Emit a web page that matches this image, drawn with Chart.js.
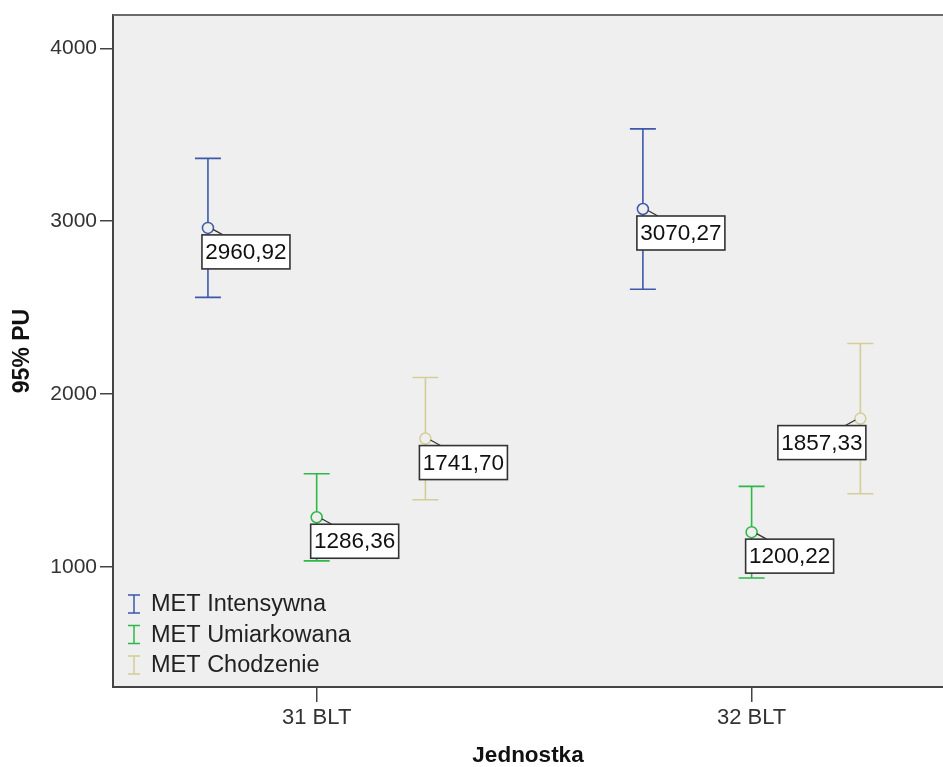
<!DOCTYPE html>
<html>
<head>
<meta charset="utf-8">
<script src="https://cdn.jsdelivr.net/npm/chart.js@4.4.1/dist/chart.umd.min.js"></script>
<style>
  html, body { margin: 0; padding: 0; background: #ffffff; overflow: hidden; }
  #wrap { width: 943px; height: 767px; }
</style>
</head>
<body>
<div id="wrap"><canvas id="c" width="943" height="767"></canvas></div>
<script>
// ---- data ----
const categories = ['31 BLT', '32 BLT'];
const seriesNames = ['MET Intensywna', 'MET Umiarkowana', 'MET Chodzenie'];
const meanIntensywna = [2960.92, 3070.27];
const lowerIntensywna = [2559, 2606];
const upperIntensywna = [3363, 3534];
const meanUmiarkowana = [1286.36, 1200.22];
const lowerUmiarkowana = [1034, 935];
const upperUmiarkowana = [1538, 1465];
const meanChodzenie = [1741.70, 1857.33];
const lowerChodzenie = [1388, 1422];
const upperChodzenie = [2095, 2292];
const yTicks = [1000, 2000, 3000, 4000];
const xTitle = 'Jednostka';
const yTitle = '95% PU';

const FONT = "'Liberation Sans', Arial, sans-serif";
const PLOT_BG = '#efefef';
const colors = ['#3E58AC', '#2EB848', '#D3CE97'];
const groupOffsets = [-0.25, 0, 0.25];

const means = [meanIntensywna, meanUmiarkowana, meanChodzenie];
const lowers = [lowerIntensywna, lowerUmiarkowana, lowerChodzenie];
const uppers = [upperIntensywna, upperUmiarkowana, upperChodzenie];
const labelLeft = [[false, false], [false, false], [false, true]];

const datasets = seriesNames.map((name, i) => ({
  label: name,
  data: means[i].map((v, j) => ({ x: j + 1 + groupOffsets[i], y: v })),
  lower: lowers[i],
  upper: uppers[i],
  labelLeft: labelLeft[i],
  borderColor: colors[i],
  backgroundColor: PLOT_BG,
  pointBackgroundColor: PLOT_BG,
  pointBorderColor: colors[i],
  pointRadius: 5.5,
  pointBorderWidth: 1.5,
  pointHoverRadius: 5.5,
  showLine: false
}));

const bgPlugin = {
  id: 'plotBg',
  beforeDraw(chart) {
    const { ctx, chartArea: a } = chart;
    ctx.save();
    ctx.fillStyle = PLOT_BG;
    ctx.fillRect(a.left, a.top, a.right - a.left, a.bottom - a.top);
    ctx.restore();
  },
  afterDraw(chart) {
    const { ctx, chartArea: a } = chart;
    ctx.save();
    ctx.strokeStyle = '#6a6a6a';
    ctx.lineWidth = 2;
    ctx.beginPath();
    ctx.moveTo(a.left, a.top);
    ctx.lineTo(a.right, a.top);
    ctx.stroke();
    ctx.restore();
  }
};

const errPlugin = {
  id: 'errBars',
  beforeDatasetsDraw(chart) {
    const { ctx, scales: { x, y } } = chart;
    ctx.save();
    chart.data.datasets.forEach((ds) => {
      ds.data.forEach((p, j) => {
        const px = x.getPixelForValue(p.x);
        const yl = y.getPixelForValue(ds.lower[j]);
        const yh = y.getPixelForValue(ds.upper[j]);
        ctx.strokeStyle = ds.borderColor;
        ctx.lineWidth = 1.6;
        ctx.beginPath();
        ctx.moveTo(px, yl); ctx.lineTo(px, yh);
        ctx.moveTo(px - 13, yl); ctx.lineTo(px + 13, yl);
        ctx.moveTo(px - 13, yh); ctx.lineTo(px + 13, yh);
        ctx.stroke();
      });
    });
    ctx.restore();
  }
};

const labelPlugin = {
  id: 'valueLabels',
  afterDatasetsDraw(chart) {
    const { ctx, scales: { x, y } } = chart;
    ctx.save();
    const w = 88, h = 34;
    chart.data.datasets.forEach((ds) => {
      ds.data.forEach((p, j) => {
        const px = x.getPixelForValue(p.x);
        const py = y.getPixelForValue(p.y);
        const left = ds.labelLeft[j];
        const bx = left ? px + 5.5 - w : px - 6;
        const by = py + 7;
        ctx.strokeStyle = '#333';
        ctx.lineWidth = 1.2;
        ctx.beginPath();
        if (left) { ctx.moveTo(px - 5, py + 1.5); ctx.lineTo(px - 15, by); }
        else { ctx.moveTo(px + 5, py + 1.5); ctx.lineTo(px + 15, by); }
        ctx.stroke();
        ctx.fillStyle = '#ffffff';
        ctx.fillRect(bx, by, w, h);
        ctx.strokeStyle = '#333';
        ctx.lineWidth = 1.6;
        ctx.strokeRect(bx, by, w, h);
        ctx.fillStyle = '#111';
        ctx.font = '22.5px ' + FONT;
        ctx.textAlign = 'center';
        ctx.textBaseline = 'middle';
        ctx.fillText(p.y.toFixed(2).replace('.', ','), bx + w / 2, by + h / 2 + 1);
      });
    });
    ctx.restore();
  }
};

const legendPlugin = {
  id: 'innerLegend',
  afterDraw(chart) {
    const { ctx, chartArea: a } = chart;
    ctx.save();
    const offs = [83, 52.5, 22];
    chart.data.datasets.forEach((ds, i) => {
      const yc = a.bottom - offs[i];
      const ix = a.left + 21;
      ctx.strokeStyle = ds.borderColor;
      ctx.lineWidth = 1.5;
      ctx.beginPath();
      ctx.moveTo(ix, yc - 9); ctx.lineTo(ix, yc + 9);
      ctx.moveTo(ix - 6, yc - 9); ctx.lineTo(ix + 6, yc - 9);
      ctx.moveTo(ix - 6, yc + 9); ctx.lineTo(ix + 6, yc + 9);
      ctx.stroke();
      ctx.fillStyle = '#222';
      ctx.font = '23.5px ' + FONT;
      ctx.textAlign = 'left';
      ctx.textBaseline = 'middle';
      ctx.fillText(ds.label, a.left + 38, yc + 1);
    });
    ctx.restore();
  }
};

new Chart(document.getElementById('c'), {
  type: 'scatter',
  data: { datasets },
  plugins: [bgPlugin, errPlugin, labelPlugin, legendPlugin],
  options: {
    responsive: false,
    animation: false,
    devicePixelRatio: 1,
    layout: { autoPadding: false, padding: { top: 15, right: 0, left: 0, bottom: 0 } },
    plugins: { legend: { display: false }, tooltip: { enabled: false } },
    scales: {
      x: {
        type: 'linear',
        position: 'bottom',
        min: 0.5317,
        max: 2.44,
        afterBuildTicks(scale) { scale.ticks = categories.map((c, i) => ({ value: i + 1 })); },
        afterFit(scale) { scale.height = 80; scale.paddingLeft = 0; scale.paddingRight = 0; },
        ticks: {
          callback: (v) => categories[Math.round(v) - 1],
          font: { family: FONT, size: 22 },
          color: '#333',
          padding: 3,
          maxRotation: 0,
          autoSkip: false
        },
        grid: { drawOnChartArea: false, drawTicks: true, tickLength: 15, color: '#444', lineWidth: 1.5 },
        border: { display: true, color: '#444', width: 2 },
        title: {
          display: true, text: xTitle, color: '#111',
          font: { family: FONT, size: 22.5, weight: 'bold', lineHeight: 1 },
          padding: { top: 0, bottom: 0 }
        }
      },
      y: {
        type: 'linear',
        min: 304,
        max: 4193,
        afterBuildTicks(scale) { scale.ticks = yTicks.map(v => ({ value: v })); },
        afterFit(scale) { scale.width = 113; scale.paddingTop = 0; scale.paddingBottom = 0; },
        ticks: {
          callback: (v) => String(v),
          font: { family: FONT, size: 21 },
          color: '#333',
          padding: 3
        },
        grid: { drawOnChartArea: false, drawTicks: true, tickLength: 13, color: '#444', lineWidth: 1.5 },
        border: { display: true, color: '#444', width: 2 },
        title: {
          display: true, text: yTitle, color: '#111',
          font: { family: FONT, size: 23, weight: 'bold', lineHeight: 1 },
          padding: { top: 11, bottom: 0 }
        }
      }
    }
  }
});
</script>
</body>
</html>
